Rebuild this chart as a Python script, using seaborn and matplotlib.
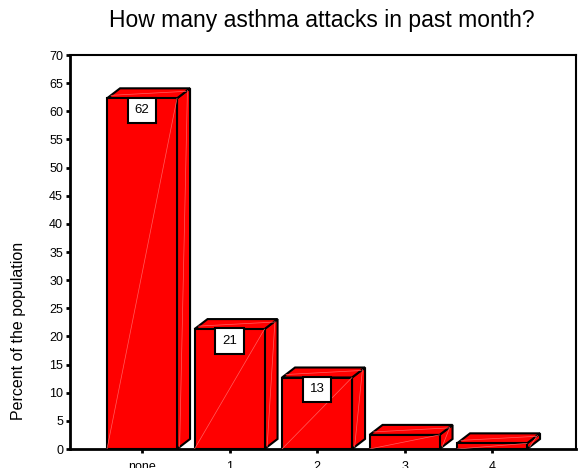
import matplotlib
matplotlib.use("Agg")
import matplotlib.pyplot as plt
import seaborn as sns
import pandas as pd
from matplotlib.patches import Polygon

categories = ["none", "1", "2", "3", "4"]
percents = [62.3, 21.3, 12.7, 2.5, 1.0]
labels = ["62", "21", "13", "", ""]
yticks = list(range(0, 75, 5))

sns.set_style("white")
plt.rcParams['font.family'] = ['Liberation Sans', 'DejaVu Sans']
plt.rcParams['text.color'] = 'black'
plt.rcParams['axes.labelcolor'] = 'black'
plt.rcParams['xtick.color'] = 'black'
plt.rcParams['ytick.color'] = 'black'

df = pd.DataFrame({"attacks": categories, "percent": percents})

fig = plt.figure(figsize=(5.81, 4.68), dpi=100)
ax = fig.add_axes([70/581, 1-449/468, (576-70)/581, (449-55)/468])

sns.barplot(data=df, x="attacks", y="percent", color="#ff0000", saturation=1,
            width=0.8, edgecolor="black", linewidth=1.5, ax=ax, zorder=3)

ax.set_xlim(-0.823, 4.96)
ax.set_ylim(0, 70)

dx, dy = 0.149, 1.78
for patch, lab in zip(ax.patches, labels):
    x0 = patch.get_x()
    w = patch.get_width()
    h = patch.get_height()
    x1 = x0 + w
    side = Polygon([[x1, 0], [x1 + dx, dy], [x1 + dx, h + dy], [x1, h]], closed=True,
                   facecolor="#ff0000", edgecolor="black", lw=1.5, zorder=2, clip_on=False)
    ax.add_patch(side)
    top = Polygon([[x0, h], [x0 + dx, h + dy], [x1 + dx, h + dy], [x1, h]], closed=True,
                  facecolor="#ff0000", edgecolor="black", lw=1.5, zorder=2, clip_on=False)
    ax.add_patch(top)
    ax.plot([x0, x1], [0, h], color="#ff6060", lw=0.5, zorder=4)
    ax.plot([x1 + dx * 0.2, x1 + dx * 0.8], [dy * 0.2, h + dy * 0.8], color="#ff6060", lw=0.5, zorder=4)
    ax.plot([x0 + dx * 0.3, x1 + dx * 0.7], [h + dy * 0.3, h + dy * 0.7], color="#ff6060", lw=0.5, zorder=4)
    if lab:
        ax.text(x0 + w / 2, h - 2.1, lab, ha="center", va="center", fontsize=9.5,
                zorder=6, bbox=dict(boxstyle="square,pad=0.5", facecolor="white",
                                    edgecolor="black", lw=1.5))

ax.set_yticks(yticks)
ax.set_yticklabels([str(t) for t in yticks], fontsize=9)
ax.tick_params(axis="y", direction="out", length=3, width=2, pad=2, left=True)
ax.tick_params(axis="x", direction="out", length=3, width=2, pad=6, bottom=True, labelsize=9)
ax.set_xlabel("")
ax.set_ylabel("Percent of the population", fontsize=11.5)
ax.yaxis.set_label_coords(-44/506, (449-331)/394)

for s in ["left", "bottom"]:
    ax.spines[s].set_linewidth(2)
for s in ["top", "right"]:
    ax.spines[s].set_linewidth(1.5)
for s in ax.spines.values():
    s.set_color("black")
    s.set_visible(True)

fig.suptitle("How many asthma attacks in past month?", fontsize=16.5, y=1 - 20/468, va="center",
             x=322/581)

fig.savefig("out.png", dpi=100)
